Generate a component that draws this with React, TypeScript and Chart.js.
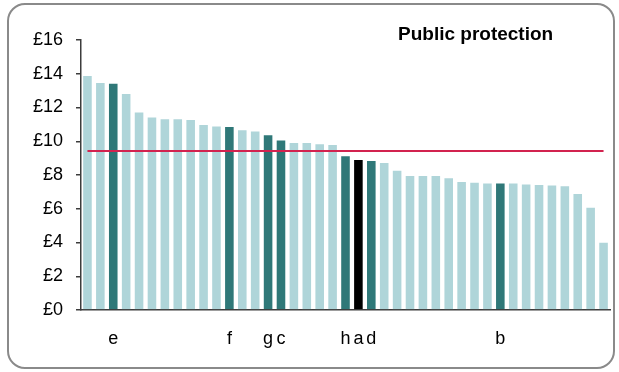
import React, { useEffect, useRef } from 'react';
import { Chart, registerables } from 'chart.js';
Chart.register(...registerables);

const LETTERS = ['', '', 'e', '', '', '', '', '', '', '', '', 'f', '', '', 'g', 'c', '', '', '', '', 'h', 'a', 'd', '', '', '', '', '', '', '', '', '', 'b', '', '', '', '', '', '', '', ''];
const VALUES = [13.93, 13.51, 13.47, 12.86, 11.77, 11.46, 11.36, 11.36, 11.32, 11.02,
  10.94, 10.9, 10.71, 10.63, 10.41, 10.11, 9.96, 9.96, 9.88, 9.84,
  9.17, 8.95, 8.89, 8.77, 8.31, 8.0, 8.0, 8.0, 7.86, 7.64,
  7.6, 7.56, 7.56, 7.56, 7.49, 7.47, 7.43, 7.39, 6.93, 6.12,
  4.05];
const KINDS = ['L', 'L', 'D', 'L', 'L', 'L', 'L', 'L', 'L', 'L', 'L', 'D', 'L', 'L', 'D', 'D', 'L', 'L', 'L', 'L', 'D', 'B', 'D', 'L', 'L', 'L', 'L', 'L', 'L', 'L', 'L', 'L', 'D', 'L', 'L', 'L', 'L', 'L', 'L', 'L', 'L'];
const AVERAGE = 9.42;
const Y_TICKS = [0, 2, 4, 6, 8, 10, 12, 14, 16];
const TITLE = 'Public protection';

const COLORS: Record<string, string> = { L: '#afd5d9', D: '#2f7878', B: '#000000' };
const FONT = '"Liberation Sans", Arial, sans-serif';

export default function App() {
  const ref = useRef<HTMLCanvasElement>(null);
  useEffect(() => {
    const ctx = ref.current!.getContext('2d')!;
    const chart = new Chart(ctx, {
      type: 'bar',
      data: {
        labels: LETTERS,
        datasets: [
          {
            type: 'line',
            data: LETTERS.map(() => AVERAGE),
            borderColor: '#d2234f',
            borderWidth: 2,
            pointRadius: 0,
            order: 0,
          } as any,
          {
            type: 'bar',
            data: VALUES,
            backgroundColor: KINDS.map((k) => COLORS[k]),
            borderColor: 'rgba(255,255,255,0.45)',
            borderWidth: 1,
            barPercentage: 0.82,
            categoryPercentage: 1,
            order: 1,
          },
        ],
      },
      options: {
        animation: false,
        responsive: false,
        maintainAspectRatio: false,
        layout: { padding: { top: 40, right: 9, left: 0, bottom: 0 } },
        plugins: { legend: { display: false }, tooltip: { enabled: false }, title: { display: false } },
        scales: {
          x: {
            grid: { display: false },
            border: { display: true, color: '#3c3c3c', width: 1.5 },
            ticks: {
              autoSkip: false,
              maxRotation: 0,
              minRotation: 0,
              padding: 10,
              color: '#000',
              font: { family: FONT, size: 18 },
            },
            afterFit: (s: any) => { s.height = 62; },
          },
          y: {
            min: 0,
            max: 16,
            afterBuildTicks: (s: any) => { s.ticks = Y_TICKS.map((v) => ({ value: v })); },
            grid: { drawOnChartArea: false, drawTicks: true, tickLength: 5, color: '#3c3c3c', lineWidth: 1.5 },
            border: { display: true, color: '#3c3c3c', width: 1.5 },
            ticks: {
              padding: 13,
              color: '#000',
              font: { family: FONT, size: 18 },
              callback: (v: any) => '£' + v,
            },
            afterFit: (s: any) => { s.width = 81; },
          },
        },
      },
    });
    return () => chart.destroy();
  }, []);
  return (
    <div style={{ position: 'absolute', left: 0, top: 0, width: 619, height: 372, background: '#fff' }}>
      <div style={{ position: 'absolute', left: 7, top: 3, width: 604, height: 362, border: '2px solid #8a8a8a', borderRadius: 18 }} />
      <canvas ref={ref} width={619} height={372} style={{ position: 'absolute', left: 0, top: 0, width: 619, height: 372 }} />
      <div style={{ position: 'absolute', left: 398, top: 24, fontFamily: FONT, fontWeight: 'bold', fontSize: 19, lineHeight: '19px', color: '#000', whiteSpace: 'nowrap' }}>{TITLE}</div>
    </div>
  );
}
